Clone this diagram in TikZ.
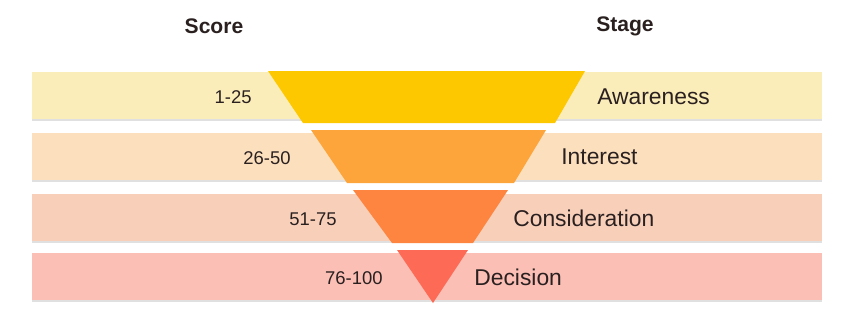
\documentclass[tikz,border=0pt]{standalone}
\usepackage{fontspec}
\setmainfont{Liberation Sans}
\definecolor{bandA}{HTML}{FBEDBA}
\definecolor{bandB}{HTML}{FCE0BE}
\definecolor{bandC}{HTML}{F8D0BA}
\definecolor{bandD}{HTML}{FBBFB5}
\definecolor{funA}{HTML}{FDC800}
\definecolor{funB}{HTML}{FDA43A}
\definecolor{funC}{HTML}{FE8540}
\definecolor{funD}{HTML}{FD6A55}
\definecolor{ink}{HTML}{2A2020}
\tikzset{
    head/.style={text=ink,font=\fontsize{12}{14}\selectfont\bfseries},
    score/.style={text=ink,anchor=east,inner sep=0pt,font=\fontsize{10.5}{12}\selectfont},
    stage/.style={text=ink,anchor=west,inner sep=0pt,font=\fontsize{13}{15}\selectfont},
    edge/.style={draw=black!12,line width=0.6pt}
}
\begin{document}
\begin{tikzpicture}[x=0.02cm,y=-0.02cm]
        \useasboundingbox (0,0) rectangle (862,322);
        % bands
        \fill[bandA] (32,72) rectangle (822,120);
        \fill[bandB] (32,133) rectangle (822,181);
        \fill[bandC] (32,194) rectangle (822,242);
        \fill[bandD] (32,253) rectangle (822,301);
        \draw[edge] (32,120) -- (822,120);
        \draw[edge] (32,181) -- (822,181);
        \draw[edge] (32,242) -- (822,242);
        \draw[edge] (32,301) -- (822,301);
        % funnel
        \fill[funA] (268,71) -- (585,71) -- (555,123) -- (303,123) -- cycle;
        \fill[funB] (311,130) -- (546,130) -- (514,183) -- (347,183) -- cycle;
        \fill[funC] (353,190) -- (508,190) -- (473,243) -- (392,243) -- cycle;
        \fill[funD] (397,250) -- (468,250) -- (433,303) -- cycle;
        % headings
        \node[head] (score) at (214,26) {Score};
        \node[head] (stage) at (625,26) {Stage};
        % score ranges
        \node[score] (s1) at (252,97) {1-25};
        \node[score] (s2) at (291,158) {26-50};
        \node[score] (s3) at (337,219) {51-75};
        \node[score] (s4) at (383,278) {76-100};
        % stages
        \node[stage] (awareness) at (597,97) {Awareness};
        \node[stage] (interest) at (561,157) {Interest};
        \node[stage] (consideration) at (513,218) {Consideration};
        \node[stage] (decision) at (474,277) {Decision};
    \end{tikzpicture}
\end{document}
